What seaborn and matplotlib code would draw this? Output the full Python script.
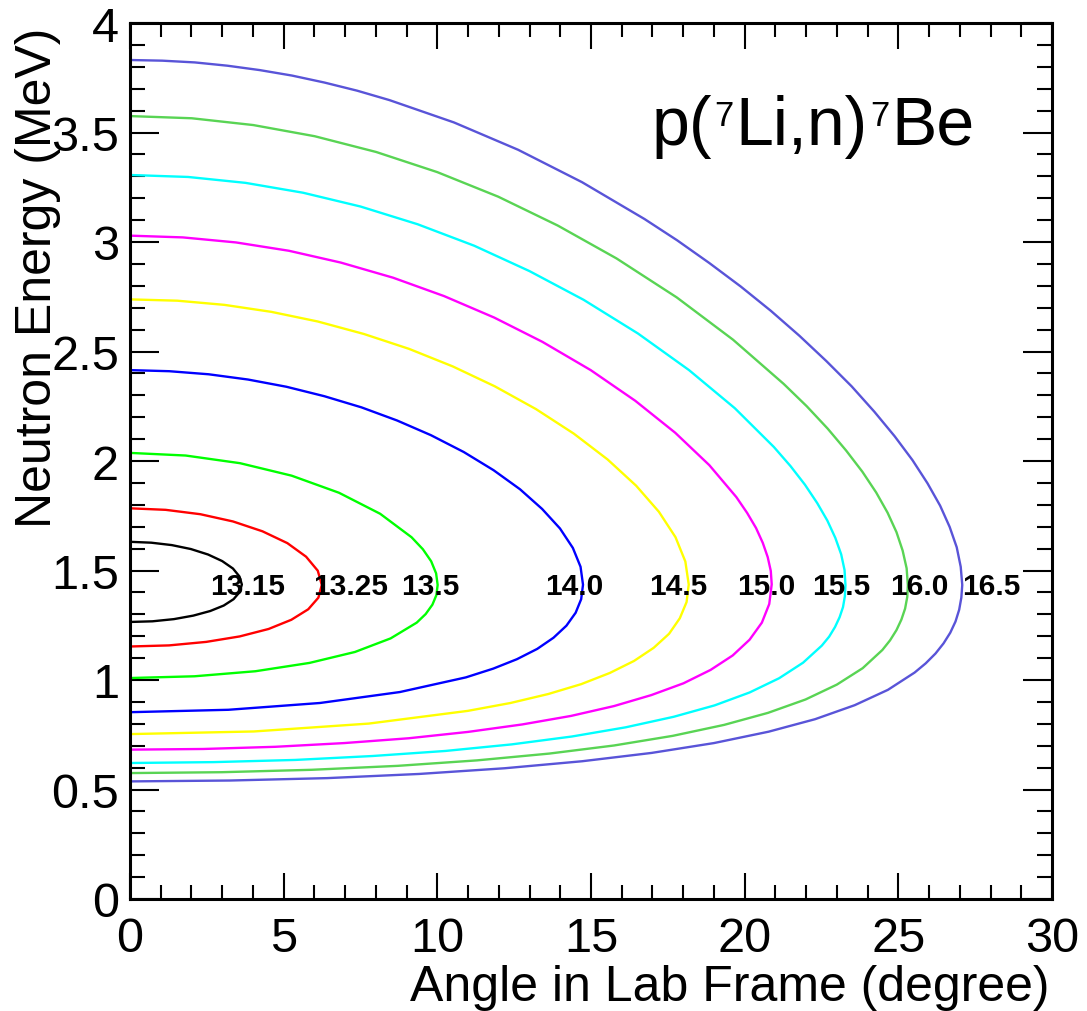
import pandas as pd
import matplotlib
matplotlib.use("Agg")
import matplotlib.pyplot as plt
import seaborn as sns
from matplotlib.ticker import MultipleLocator, FuncFormatter

# 7Li beam energies (MeV); one kinematic curve per beam energy
beams = ["13.15", "13.25", "13.5", "14.0", "14.5", "15.0", "15.5", "16.0", "16.5"]

# Neutron lab angle (deg) and energy (MeV) along each curve,
# from the forward high-energy branch round to the low-energy branch
angle_1315 = [0.00, 0.69, 1.36, 1.98, 2.54, 3.00, 3.35, 3.56, 3.64, 3.57, 3.37, 3.05,
              2.61, 2.06, 1.43, 0.73, 0.00]
energy_1315 = [1.631, 1.627, 1.616, 1.598, 1.573, 1.543, 1.509, 1.473, 1.436, 1.402,
               1.369, 1.340, 1.315, 1.294, 1.278, 1.268, 1.265]

angle_1325 = [0.00, 1.16, 2.29, 3.35, 4.31, 5.12, 5.73, 6.11, 6.24, 6.13, 5.80, 5.25,
              4.51, 3.57, 2.48, 1.27, 0.00]
energy_1325 = [1.784, 1.777, 1.757, 1.724, 1.679, 1.625, 1.563, 1.499, 1.434, 1.376,
               1.323, 1.275, 1.233, 1.199, 1.174, 1.158, 1.153]

angle_1350 = [0.00, 1.81, 3.58, 5.26, 6.80, 8.14, 9.16, 9.53, 9.80, 9.96, 10.01, 9.97,
              9.84, 9.62, 9.33, 8.48, 7.32, 5.84, 4.08, 2.10, 0.00]
energy_1350 = [2.037, 2.025, 1.990, 1.933, 1.855, 1.759, 1.652, 1.597, 1.542, 1.487,
               1.434, 1.388, 1.344, 1.301, 1.262, 1.190, 1.128, 1.078, 1.040, 1.017,
               1.009]

angle_1400 = [0.00, 1.28, 2.56, 3.84, 5.09, 6.32, 7.53, 8.69, 9.79, 10.86, 11.83,
              12.69, 13.41, 13.99, 14.41, 14.66, 14.74, 14.68, 14.50, 14.20, 13.78,
              13.25, 12.59, 11.82, 10.93, 8.78, 6.18, 3.20, 0.00]
energy_1400 = [2.415, 2.410, 2.396, 2.372, 2.339, 2.296, 2.245, 2.185, 2.118, 2.041,
               1.958, 1.871, 1.781, 1.692, 1.603, 1.517, 1.435, 1.369, 1.307, 1.248,
               1.193, 1.142, 1.095, 1.052, 1.012, 0.945, 0.895, 0.864, 0.853]

angle_1450 = [0.00, 1.54, 3.07, 4.60, 6.11, 7.61, 9.08, 10.50, 11.87, 13.21, 14.44,
              15.54, 16.47, 17.21, 17.75, 18.07, 18.18, 18.11, 17.89, 17.54, 17.04,
              16.40, 15.61, 14.68, 13.61, 12.38, 10.99, 7.77, 4.03, 0.00]
energy_1450 = [2.738, 2.732, 2.713, 2.681, 2.637, 2.580, 2.512, 2.432, 2.341, 2.237,
               2.125, 2.007, 1.887, 1.768, 1.652, 1.541, 1.436, 1.356, 1.282, 1.211,
               1.147, 1.087, 1.032, 0.981, 0.936, 0.895, 0.859, 0.801, 0.765, 0.753]

angle_1500 = [0.00, 1.72, 3.45, 5.17, 6.86, 8.56, 10.22, 11.85, 13.42, 14.99, 16.44,
              17.74, 18.85, 19.73, 20.08, 20.37, 20.59, 20.75, 20.85, 20.88, 20.80,
              20.56, 20.16, 19.61, 18.89, 18.01, 16.96, 15.75, 14.35, 12.76, 11.00,
              9.07, 6.97, 4.73, 2.38, 0.00]
energy_1500 = [3.029, 3.021, 2.998, 2.960, 2.906, 2.837, 2.753, 2.655, 2.544, 2.415,
               2.275, 2.129, 1.981, 1.835, 1.763, 1.694, 1.626, 1.561, 1.498, 1.437,
               1.347, 1.262, 1.184, 1.112, 1.046, 0.985, 0.931, 0.881, 0.836, 0.797,
               0.763, 0.734, 0.712, 0.695, 0.685, 0.682]

angle_1550 = [0.00, 1.89, 3.76, 5.63, 7.50, 9.36, 11.20, 13.00, 14.76, 16.53, 18.19,
              19.68, 20.95, 21.49, 21.96, 22.36, 22.69, 22.95, 23.14, 23.25, 23.28,
              23.26, 23.20, 23.09, 22.94, 22.75, 22.51, 21.90, 21.12, 20.16, 19.02,
              17.69, 16.13, 14.38, 12.42, 10.26, 7.90, 5.38, 2.72, 0.00]
energy_1550 = [3.306, 3.297, 3.270, 3.225, 3.162, 3.081, 2.983, 2.867, 2.736, 2.582,
               2.415, 2.241, 2.064, 1.977, 1.892, 1.808, 1.728, 1.649, 1.574, 1.502,
               1.433, 1.382, 1.333, 1.287, 1.242, 1.198, 1.157, 1.079, 1.008, 0.943,
               0.884, 0.832, 0.784, 0.742, 0.706, 0.676, 0.653, 0.635, 0.625, 0.621]

angle_1600 = [0.00, 2.01, 4.01, 6.01, 8.01, 10.00, 11.98, 13.92, 15.83, 17.79, 19.62,
              21.27, 22.02, 22.70, 23.30, 23.83, 24.28, 24.65, 24.94, 25.14, 25.27,
              25.31, 25.29, 25.22, 25.10, 24.94, 24.73, 24.48, 23.84, 23.00, 21.98,
              20.76, 19.33, 17.66, 15.75, 13.64, 11.29, 8.71, 5.92, 2.99, 0.00]
energy_1600 = [3.575, 3.565, 3.534, 3.483, 3.411, 3.319, 3.207, 3.075, 2.925, 2.747,
               2.554, 2.352, 2.250, 2.148, 2.048, 1.951, 1.856, 1.764, 1.675, 1.591,
               1.510, 1.433, 1.379, 1.326, 1.276, 1.228, 1.181, 1.137, 1.054, 0.979,
               0.911, 0.850, 0.795, 0.745, 0.701, 0.664, 0.633, 0.608, 0.590, 0.579,
               0.575]

angle_1650 = [0.00, 1.05, 2.11, 3.17, 4.22, 5.27, 6.33, 7.39, 8.44, 10.54, 12.63,
              14.71, 16.74, 17.80, 18.85, 19.87, 20.85, 21.78, 22.66, 23.48, 24.22,
              24.88, 25.46, 25.95, 26.36, 26.67, 26.90, 27.03, 27.08, 27.05, 26.98,
              26.86, 26.69, 26.47, 26.21, 25.89, 25.53, 24.66, 23.58, 22.29, 20.78,
              19.00, 16.97, 14.71, 12.19, 9.41, 6.42, 3.25, 0.00]
energy_1650 = [3.831, 3.828, 3.820, 3.805, 3.785, 3.760, 3.728, 3.691, 3.648, 3.546,
               3.421, 3.273, 3.105, 3.008, 2.904, 2.797, 2.686, 2.572, 2.456, 2.341,
               2.225, 2.113, 2.004, 1.898, 1.796, 1.699, 1.606, 1.517, 1.434, 1.376,
               1.321, 1.267, 1.216, 1.167, 1.121, 1.076, 1.034, 0.955, 0.885, 0.821,
               0.764, 0.712, 0.667, 0.629, 0.597, 0.571, 0.552, 0.541, 0.537]

angles = [angle_1315, angle_1325, angle_1350, angle_1400, angle_1450,
          angle_1500, angle_1550, angle_1600, angle_1650]
energies = [energy_1315, energy_1325, energy_1350, energy_1400, energy_1450,
            energy_1500, energy_1550, energy_1600, energy_1650]

# ROOT-style line colours (1, 2, 3, 4, 5, 6, 7, 8, 9)
colors = ["#000000", "#ff0000", "#00ff00", "#0000ff", "#ffff00",
          "#ff00ff", "#00ffff", "#59d454", "#5954d8"]
# where each beam-energy tag sits along the angle axis
tag_x = [3.82, 7.19, 9.76, 14.45, 17.85, 20.71, 23.14, 25.68, 28.03]

rows = []
for b, th, en in zip(beams, angles, energies):
    for i, (t, e) in enumerate(zip(th, en)):
        rows.append({"beam": b, "angle": t, "energy": e, "order": i})
df = pd.DataFrame(rows)

sns.set_theme(style="ticks")
plt.rcParams["font.family"] = ["Liberation Sans", "DejaVu Sans"]
plt.rcParams["text.color"] = "black"

fig = plt.figure(figsize=(10.87, 10.12), dpi=100)
ax = fig.add_axes([130 / 1087, 112 / 1012, 922 / 1087, 876 / 1012])
sns.lineplot(data=df, x="angle", y="energy", hue="beam", hue_order=beams,
             palette=colors, sort=False, estimator=None, linewidth=1.7,
             legend=False, ax=ax)
ax.set_xlim(0, 30)
ax.set_ylim(0, 4)
ax.set_xlabel("")
ax.set_ylabel("")
for s in ax.spines.values():
    s.set_visible(True)
    s.set_color("black")
    s.set_linewidth(2.2)
ax.xaxis.set_major_locator(MultipleLocator(5))
ax.xaxis.set_minor_locator(MultipleLocator(1))
ax.yaxis.set_major_locator(MultipleLocator(0.5))
ax.yaxis.set_minor_locator(MultipleLocator(0.1))
fmt = FuncFormatter(lambda v, p: f"{v:g}")
ax.xaxis.set_major_formatter(fmt)
ax.yaxis.set_major_formatter(fmt)
ax.tick_params(which="both", direction="in", top=True, right=True,
               color="black", width=1.5, labelsize=35, labelcolor="black")
ax.tick_params(axis="x", which="major", length=19, pad=12)
ax.tick_params(axis="x", which="minor", length=10)
ax.tick_params(axis="y", which="major", length=21, pad=8)
ax.tick_params(axis="y", which="minor", length=10.5)

for b, xl in zip(beams, tag_x):
    ax.text(xl, 1.393, b, ha="center", va="baseline", fontsize=21.5,
            fontweight="bold", color="black")

# reaction label with small raised mass numbers
renderer = fig.canvas.get_renderer()
x = 652.0
for s, fs, dy in [("p(", 49, 0), ("7", 25, 19), ("Li,n)", 49, 0),
                  ("7", 25, 19), ("Be", 49, 0)]:
    t = fig.text(x / 1087, (1012 - 145 + dy) / 1012, s, fontsize=fs,
                 ha="left", va="baseline")
    x = t.get_window_extent(renderer).x1 + 2

fig.text(1050 / 1087, (1012 - 1001) / 1012, "Angle in Lab Frame (degree)",
         fontsize=36, ha="right", va="baseline")
fig.text(51 / 1087, (1012 - 28) / 1012, "Neutron Energy (MeV)", fontsize=36,
         rotation=90, rotation_mode="anchor", ha="right", va="baseline")

fig.savefig("out.png", dpi=100)
